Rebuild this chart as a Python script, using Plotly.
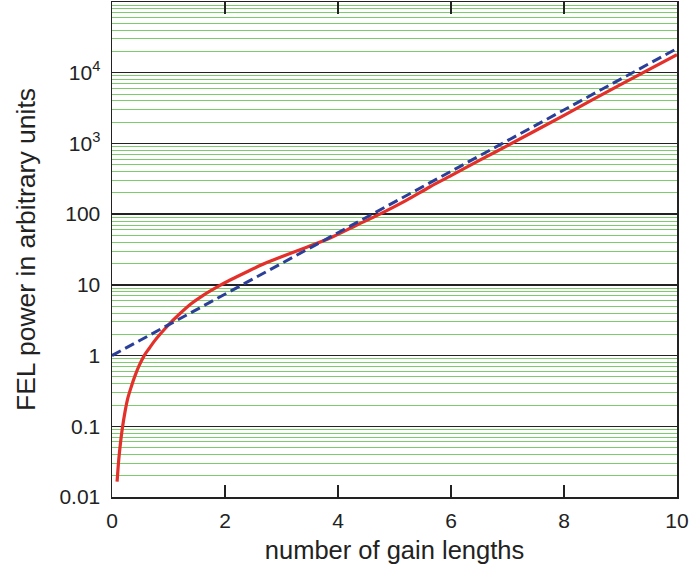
import plotly.graph_objects as go

# Data
gain_lengths_red = [0.09, 0.12, 0.15, 0.18, 0.23, 0.28, 0.34, 0.40, 0.48, 0.57, 0.66,
                    0.75, 0.85, 0.95, 1.0, 1.2, 1.4, 1.6, 1.88, 2.1, 2.41, 2.7, 3.0,
                    3.4, 3.86, 4.3, 4.74, 5.2, 5.63, 6.0, 6.51, 7.0, 8.0, 9.0, 10.0]
power_red = [0.0165, 0.034, 0.058, 0.09, 0.16, 0.25, 0.36, 0.50, 0.72, 1.0, 1.27,
             1.6, 2.0, 2.45, 2.72, 3.9, 5.4, 7.0, 9.5, 11.8, 15.6, 20, 25,
             33, 46, 68, 100, 155, 244, 350, 580, 930, 2500, 6800, 18000]

gain_lengths_blue = [0.0, 10.0]
power_blue = [1.0, 22000.0]

y_tick_vals = [0.01, 0.1, 1, 10, 100, 1000, 10000]
y_tick_text = ["0.01", "0.1", "1", "10", "100", "10<sup>3</sup>", "10<sup>4</sup>"]
x_tick_vals = [0, 2, 4, 6, 8, 10]

minor_vals = [m * 10.0 ** d for d in range(-2, 5) for m in range(2, 10)]

fig = go.Figure()
fig.add_trace(go.Scatter(
    x=gain_lengths_red, y=power_red, mode="lines",
    line=dict(color="#e3302a", width=3.2, shape="spline", smoothing=0.8),
    showlegend=False, hoverinfo="skip",
))
fig.add_trace(go.Scatter(
    x=gain_lengths_blue, y=power_blue, mode="lines",
    line=dict(color="#2c3f98", width=3, dash="10px,5px"),
    showlegend=False, hoverinfo="skip",
))

font_family = "Liberation Sans, Arial, Helvetica, sans-serif"

fig.update_layout(
    width=691, height=573,
    margin=dict(l=112, r=14, t=2, b=76),
    paper_bgcolor="white", plot_bgcolor="white",
    font=dict(family=font_family, color="#222222", size=21),
)
fig.update_xaxes(
    range=[0, 10], tickvals=x_tick_vals, automargin=False,
    ticks="inside", ticklen=12, tickwidth=1.5, tickcolor="#222222",
    showline=True, linecolor="#222222", linewidth=1.5, mirror="ticks",
    showgrid=False, zeroline=False,
    tickfont=dict(size=21), ticklabelstandoff=4,
    title=dict(text="number of gain lengths", font=dict(size=25.5), standoff=10),
)
fig.update_yaxes(
    type="log", range=[-2, 5], automargin=False,
    tickvals=y_tick_vals, ticktext=y_tick_text,
    ticks="", showline=True, linecolor="#222222", linewidth=1.5, mirror=True,
    showgrid=True, gridcolor="#222222", gridwidth=1.5, zeroline=False,
    minor=dict(tickvals=minor_vals, showgrid=True, gridcolor="#7ccc6c", gridwidth=1, ticks=""),
    tickfont=dict(size=21), ticklabelstandoff=6,
    title=dict(text="FEL power in arbitrary units", font=dict(size=26.5), standoff=16),
)

fig.write_html(
    "out.html",
    config={"displayModeBar": False, "staticPlot": True},
    post_script="document.body.style.margin='0';",
)
